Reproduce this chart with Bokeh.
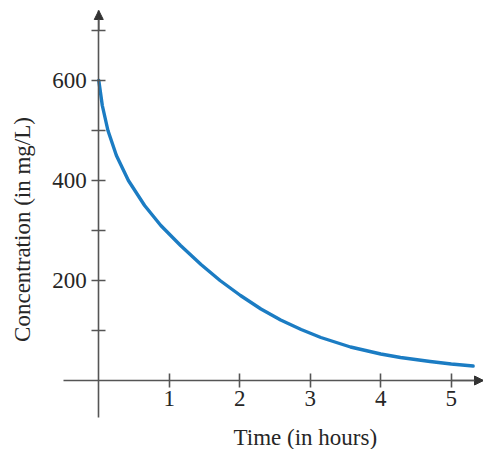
import math
from bokeh.plotting import figure
from bokeh.models import Range1d, FixedTicker, Arrow, NormalHead, Label
from bokeh.embed import file_html
from bokeh.resources import INLINE

# ---- data ----
time_h = [0, 0.05, 0.13, 0.25, 0.42, 0.65, 0.88, 1.16, 1.45, 1.72, 2.01, 2.30,
          2.58, 2.87, 3.15, 3.57, 4.00, 4.28, 4.70, 5.00, 5.31]
conc = [600, 550, 500, 450, 400, 350, 310, 270, 232, 200, 170, 143,
        121, 102, 86, 67, 53, 46, 38, 33, 29]
x_ticks = [1, 2, 3, 4, 5]
y_ticks = [100, 200, 300, 400, 500, 600, 700]
y_labels = {100: "", 200: "200", 300: "", 400: "400", 500: "", 600: "600", 700: ""}
x_title = "Time (in hours)"
y_title = "Concentration (in mg/L)"

AX = "#555555"
TXT = "#262626"
FONT = "Liberation Serif"
BLUE = "#1b7cc3"
FS = "23px"

p = figure(width=483, height=449, output_backend="svg", toolbar_location=None,
           x_range=Range1d(-1.394, 5.457), y_range=Range1d(-138, 760),
           min_border=0)
p.outline_line_color = None
p.grid.visible = False
p.background_fill_color = "white"
p.border_fill_color = "white"

for ax in (p.xaxis, p.yaxis):
    ax.fixed_location = 0
    ax.axis_line_color = AX
    ax.axis_line_width = 1.6
    ax.major_tick_line_color = AX
    ax.major_tick_line_width = 1.6
    ax.major_tick_in = 7
    ax.major_tick_out = 7
    ax.minor_tick_line_color = None
    ax.major_label_text_font = FONT
    ax.major_label_text_font_size = FS
    ax.major_label_text_color = TXT

p.xaxis.bounds = (-0.5, 5.457)
p.yaxis.bounds = (-74, 740)
p.xaxis.ticker = FixedTicker(ticks=x_ticks)
p.xaxis.major_label_standoff = 3
p.yaxis.ticker = FixedTicker(ticks=y_ticks)
p.yaxis.major_label_overrides = y_labels
p.yaxis.major_label_standoff = 5

p.line(time_h, conc, line_color=BLUE, line_width=3.4, line_cap="round",
       line_join="round")

p.add_layout(Arrow(end=NormalHead(size=9, fill_color="#333333", line_color="#333333", line_width=1),
                   x_start=0, y_start=y_ticks[-1], x_end=0, y_end=740,
                   line_color=AX, line_width=1.6))
p.add_layout(Arrow(end=NormalHead(size=9, fill_color="#333333", line_color="#333333", line_width=1),
                   x_start=x_ticks[-1], y_start=0, x_end=p.x_range.end, y_end=0,
                   line_color=AX, line_width=1.6))

p.add_layout(Label(x=2.93, y=-114, text=x_title, text_align="center",
                   text_baseline="middle", text_font=FONT, text_font_size=FS,
                   text_color=TXT))
p.add_layout(Label(x=-1.08, y=302, text=y_title, text_align="center",
                   text_baseline="middle", angle=math.pi / 2, text_font=FONT,
                   text_font_size=FS, text_color=TXT))

open("out.html", "w").write(file_html(p, INLINE))
